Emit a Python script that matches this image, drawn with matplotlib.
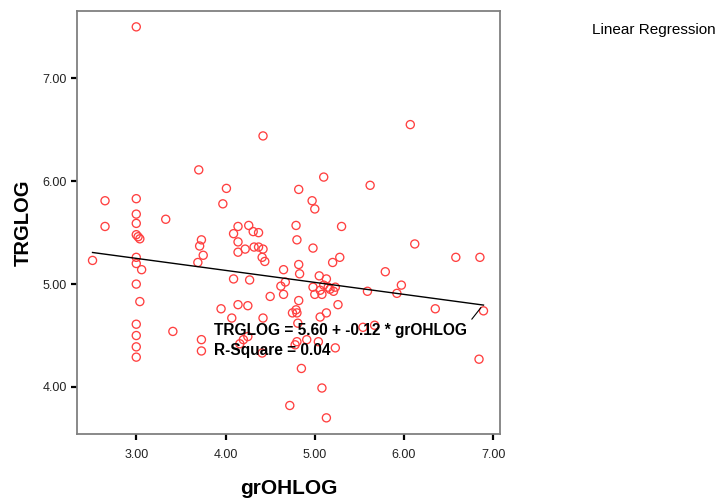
import matplotlib
matplotlib.use("Agg")
import matplotlib.pyplot as plt
import numpy as np

plt.rcParams['font.family'] = ['Liberation Sans', 'DejaVu Sans']

grOHLOG = [3.00, 3.70, 4.01, 2.65, 3.00, 3.97, 3.00, 3.00, 3.33, 2.65,
           3.00, 3.02, 3.04, 3.73, 3.71, 3.75, 3.69, 2.51, 3.00, 3.00,
           3.06, 3.00, 3.04, 3.00, 3.00, 3.00, 3.00, 3.41, 3.73, 3.73,
           3.95, 4.07, 4.42, 5.10, 4.82, 5.62, 4.97, 5.00, 4.14, 4.26,
           4.09, 4.31, 4.37, 4.79, 5.30, 4.14, 4.22, 4.14, 4.32, 4.37,
           4.42, 4.41, 4.44, 4.80, 4.98, 5.28, 5.20, 4.82, 4.83, 4.65,
           4.67, 4.62, 4.65, 4.09, 4.27, 4.50, 4.82, 5.05, 5.13, 5.10,
           5.15, 5.23, 4.98, 5.06, 5.17, 5.00, 5.08, 5.21, 5.59, 4.79,
           4.75, 4.80, 4.14, 4.25, 5.26, 5.13, 5.06, 4.42, 4.81, 4.25,
           4.20, 4.16, 4.41, 4.80, 4.91, 4.78, 5.04, 5.23, 4.85, 5.08,
           4.72, 5.13, 6.07, 6.12, 6.58, 6.85, 5.79, 5.97, 5.92, 6.35,
           6.89, 5.54, 5.67, 6.84]
TRGLOG = [7.50, 6.11, 5.93, 5.81, 5.83, 5.78, 5.68, 5.59, 5.63, 5.56,
          5.48, 5.46, 5.44, 5.43, 5.37, 5.28, 5.21, 5.23, 5.26, 5.20,
          5.14, 5.00, 4.83, 4.61, 4.50, 4.39, 4.29, 4.54, 4.46, 4.35,
          4.76, 4.67, 6.44, 6.04, 5.92, 5.96, 5.81, 5.73, 5.56, 5.57,
          5.49, 5.51, 5.50, 5.57, 5.56, 5.41, 5.34, 5.31, 5.36, 5.36,
          5.34, 5.26, 5.22, 5.43, 5.35, 5.26, 5.21, 5.19, 5.10, 5.14,
          5.02, 4.98, 4.90, 5.05, 5.04, 4.88, 4.84, 5.08, 5.05, 4.99,
          4.97, 4.97, 4.97, 4.94, 4.95, 4.90, 4.90, 4.93, 4.93, 4.75,
          4.72, 4.72, 4.80, 4.79, 4.80, 4.72, 4.68, 4.67, 4.62, 4.49,
          4.46, 4.42, 4.33, 4.44, 4.46, 4.41, 4.44, 4.38, 4.18, 3.99,
          3.82, 3.70, 6.55, 5.39, 5.26, 5.26, 5.12, 4.99, 4.91, 4.76,
          4.74, 4.58, 4.60, 4.27]

intercept = 5.60
slope = -0.1167
eq_text = "TRGLOG = 5.60 + -0.12 * grOHLOG"
r2_text = "R-Square = 0.04"
x_ticks = [3.0, 4.0, 5.0, 6.0, 7.0]
y_ticks = [4.0, 5.0, 6.0, 7.0]

fig = plt.figure(figsize=(7.21, 5.04), dpi=100)
ax = fig.add_axes([77/721, 1-434/504, (500-77)/721, (434-10.7)/504])

ax.scatter(grOHLOG, TRGLOG, s=34, facecolors='none', edgecolors='#ff4040',
           linewidths=0.95, zorder=3)

xl = np.array([min(grOHLOG), max(grOHLOG)])
ax.plot(xl, intercept + slope * xl, color='black', lw=1.0, zorder=4)
ax.plot([6.76, 6.86], [4.66, 4.77], color='black', lw=0.8, zorder=4)

ax.text(3.87, 4.505, eq_text, fontsize=11.2, fontweight='bold', va='baseline',
        ha='left', zorder=5)
ax.text(3.87, 4.31, r2_text, fontsize=11.2, fontweight='bold', va='baseline',
        ha='left', zorder=5)

ax.set_xlim(2.336, 7.075)
ax.set_ylim(3.543, 7.657)
ax.set_xticks(x_ticks)
ax.set_yticks(y_ticks)
ax.set_xticklabels([f"{v:.2f}" for v in x_ticks])
ax.set_yticklabels([f"{v:.2f}" for v in y_ticks])
ax.tick_params(axis='both', direction='out', length=4.5, width=1.6,
               color='black', labelsize=9, labelcolor='#222222')
ax.tick_params(axis='x', pad=6)
ax.tick_params(axis='y', pad=3)
for sp in ax.spines.values():
    sp.set_color('#808080')
    sp.set_linewidth(1.3)

ax.set_xlabel("grOHLOG", fontsize=15, fontweight='bold', labelpad=13)
ax.set_ylabel("TRGLOG", fontsize=14.5, fontweight='bold', labelpad=7)

fig.text(592/721, 1-30/504, "Linear Regression", fontsize=11, ha='left',
         va='center')

fig.savefig("out.png", dpi=100)
